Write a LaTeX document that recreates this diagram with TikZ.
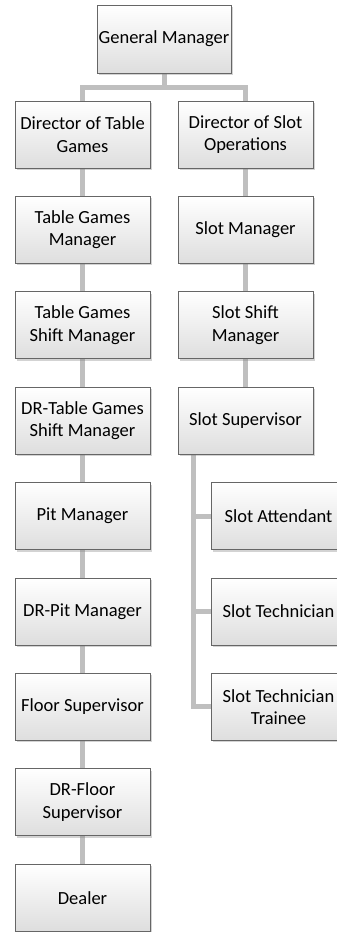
\documentclass[tikz,border=0pt]{standalone}
\usepackage{fontspec}
\setmainfont{Carlito}
\usetikzlibrary{shadows}
\begin{document}
\begin{tikzpicture}[x=1pt,y=-1pt,
  box/.style={draw=black!60, line width=0.8pt, top color=white, bottom color=black!13,
    minimum width=135pt, minimum height=67pt, align=center, inner sep=0pt,
    font=\fontsize{18.5}{22.5}\selectfont,
    drop shadow={opacity=0.35, shadow xshift=1.5pt, shadow yshift=-2pt}},
  conn/.style={draw=black!25, line width=5pt}]
\useasboundingbox (0,0) rectangle (337,932);
\coordinate (gmc) at (164,39);
\foreach \n/\y in {l1/134.5,l2/229.9,l3/325.3,l4/420.7,l5/516.1,l6/611.5,l7/706.9,l8/802.3,l9/897.7}{
  \coordinate (\n) at (82.5,\y);}
\foreach \n/\y in {r1/134.5,r2/229.9,r3/325.3,r4/420.7}{
  \coordinate (\n) at (245.5,\y);}
\foreach \n/\y in {c1/516.1,c2/611.5,c3/706.9}{
  \coordinate (\n) at (278.5,\y);}
% connectors (behind boxes)
\draw[conn] (gmc) -- (164,87) -| (l1);
\draw[conn] (gmc) -- (164,87) -| (r1);
\draw[conn] (l1) -- (l9);
\draw[conn] (r1) -- (r4);
\draw[conn] (193,420.7) -- (193,706.9) -- (c3);
\draw[conn] (193,516.1) -- (c1);
\draw[conn] (193,611.5) -- (c2);
% boxes
\node[box, minimum width=134pt, minimum height=68pt] (gm) at (gmc) {General Manager};
\node[box] (dtg) at (l1) {Director of Table\\Games};
\node[box] (tgm) at (l2) {Table Games\\Manager};
\node[box] (tgsm) at (l3) {Table Games\\Shift Manager};
\node[box] (drtg) at (l4) {DR-Table Games\\Shift Manager};
\node[box] (pm) at (l5) {Pit Manager};
\node[box] (drpm) at (l6) {DR-Pit Manager};
\node[box] (fs) at (l7) {Floor Supervisor};
\node[box] (drfs) at (l8) {DR-Floor\\Supervisor};
\node[box] (dl) at (l9) {Dealer};
\node[box] (dso) at (r1) {Director of Slot\\Operations};
\node[box] (sm) at (r2) {Slot Manager};
\node[box] (ssm) at (r3) {Slot Shift\\Manager};
\node[box] (ss) at (r4) {Slot Supervisor};
\node[box] (sa) at (c1) {Slot Attendant};
\node[box] (st) at (c2) {Slot Technician};
\node[box] (stt) at (c3) {Slot Technician\\Trainee};
\end{tikzpicture}
\end{document}
